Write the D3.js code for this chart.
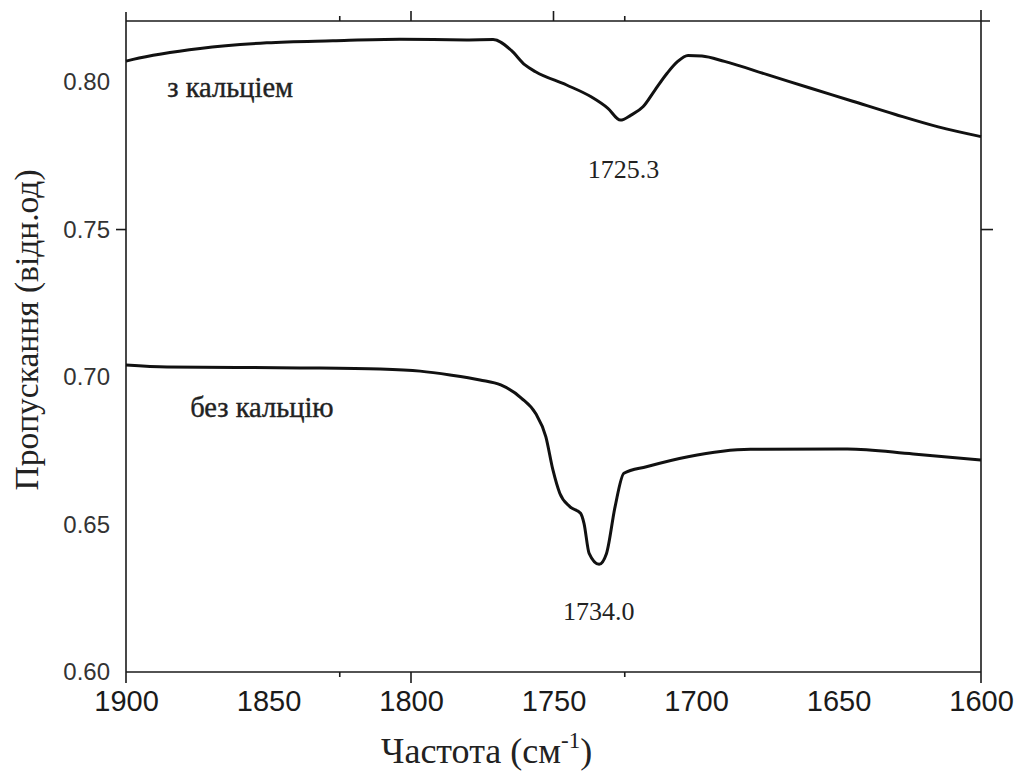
<!DOCTYPE html>
<html>
<head>
<meta charset="utf-8">
<script src="https://cdn.jsdelivr.net/npm/d3@7"></script>
<style>
  html, body { margin: 0; padding: 0; background: #fff; }
  svg { display: block; }
</style>
</head>
<body>
<svg id="chart" width="1020" height="773"></svg>
<script>
// ---- data ----
const withCaFreq = [1900, 1897.5, 1874, 1850.6, 1827.4, 1803.9, 1780.5, 1771.2, 1764.9, 1760, 1756.3, 1745.4, 1736.8, 1730.9, 1726.5, 1722.8, 1718.6, 1714.4, 1710.2, 1706.5, 1702.8, 1697.9, 1690, 1675, 1660, 1645, 1630, 1615, 1600];
const withCaVal  = [0.8071, 0.8077, 0.8114, 0.8133, 0.8140, 0.8145, 0.8143, 0.8144, 0.8108, 0.8058, 0.8035, 0.7990, 0.7950, 0.7911, 0.7871, 0.7888, 0.7916, 0.7973, 0.8029, 0.8069, 0.8090, 0.8088, 0.8070, 0.8025, 0.7980, 0.7935, 0.7890, 0.7848, 0.7815];

const noCaFreq = [1900, 1885.6, 1838.9, 1810.9, 1796.8, 1786.3, 1775.8, 1768.5, 1761.2, 1756.3, 1752.7, 1750.2, 1747.8, 1744.2, 1740.5, 1739.3, 1737.5, 1734.0, 1731.4, 1728.4, 1725.3, 1717.4, 1702.8, 1680.9, 1646.9, 1623.8, 1600];
const noCaVal  = [0.7041, 0.7034, 0.7031, 0.7027, 0.7020, 0.7007, 0.6990, 0.6973, 0.6928, 0.6877, 0.6798, 0.6685, 0.6606, 0.6560, 0.6538, 0.6504, 0.6402, 0.6365, 0.6402, 0.6560, 0.6674, 0.6696, 0.6730, 0.6755, 0.6756, 0.6739, 0.6719];

const xTickLabels = [1900, 1850, 1800, 1750, 1700, 1650, 1600];
const yTickLabels = [0.60, 0.65, 0.70, 0.75, 0.80];
const topMajorTicks = [1800, 1750];
const topMinorTicks = [1825, 1725];
const bottomMajorTicks = [1800];
const bottomMinorTicks = [1825, 1725];
const sideTicks = [0.75];

const seriesLabels = [
  { text: "з кальцiем", f: 1885.5, v: 0.7949 },
  { text: "без кальцію", f: 1877.5, v: 0.6864 }
];
const peakLabels = [
  { text: "1725.3", f: 1738, v: 0.7675 },
  { text: "1734.0", f: 1746.7, v: 0.6176 }
];
const xTitle = "Частота (см";
const xTitleSup = "-1";
const yTitle = "Пропускання (відн.од)";

// ---- layout ----
const svg = d3.select("#chart");
const L = 126, R = 981, T = 21, B = 672;
const x = d3.scaleLinear().domain([1900, 1600]).range([L, R]);
const y = d3.scaleLinear().domain([0.60, 0.8207]).range([B, T]);
const ink = "#1a1a1a";

// frame
const frame = svg.append("g").attr("stroke", ink).attr("stroke-width", 1.6).attr("fill", "none");
frame.append("line").attr("x1", L).attr("x2", L).attr("y1", T - 9).attr("y2", B + 11);
frame.append("line").attr("x1", R).attr("x2", R).attr("y1", T - 11).attr("y2", B + 11);
frame.append("line").attr("x1", L).attr("x2", R + 9).attr("y1", T).attr("y2", T);
frame.append("line").attr("x1", L).attr("x2", R).attr("y1", B).attr("y2", B);

// ticks
function ticksH(vals, yPos, len) {
  frame.selectAll(null).data(vals).join("line")
    .attr("x1", d => x(d)).attr("x2", d => x(d))
    .attr("y1", yPos).attr("y2", yPos + len);
}
ticksH(topMajorTicks, T, -10);
ticksH(topMinorTicks, T, -5);
ticksH(bottomMajorTicks, B, 11);
ticksH(bottomMinorTicks, B, 5);
frame.selectAll(null).data(sideTicks).join("line")
  .attr("x1", L - 10).attr("x2", L).attr("y1", d => y(d)).attr("y2", d => y(d));
frame.selectAll(null).data(sideTicks).join("line")
  .attr("x1", R).attr("x2", R + 12).attr("y1", d => y(d)).attr("y2", d => y(d));

// tick labels via axes
const xAxis = svg.append("g").attr("transform", `translate(0,${B})`)
  .call(d3.axisBottom(x).tickValues(xTickLabels).tickSize(0).tickPadding(18).tickFormat(d3.format("d")));
xAxis.select(".domain").remove();
xAxis.selectAll("text").attr("font-family", "'Liberation Sans', Arial, sans-serif")
  .attr("font-size", 29).attr("fill", ink);

const yAxis = svg.append("g").attr("transform", `translate(${L},0)`)
  .call(d3.axisLeft(y).tickValues(yTickLabels).tickSize(0).tickPadding(16).tickFormat(d3.format(".2f")));
yAxis.select(".domain").remove();
yAxis.selectAll("text").attr("font-family", "'Liberation Sans', Arial, sans-serif")
  .attr("font-size", 24).attr("fill", "#333");

// curves
const line = d3.line().x(d => x(d[0])).y(d => y(d[1])).curve(d3.curveMonotoneX);
const s1 = withCaFreq.map((f, i) => [f, withCaVal[i]]);
const s2 = noCaFreq.map((f, i) => [f, noCaVal[i]]);
[s1, s2].forEach(s => {
  svg.append("path").datum(s).attr("d", line)
    .attr("fill", "none").attr("stroke", "#111").attr("stroke-width", 3)
    .attr("stroke-linejoin", "round");
});

// annotations
const serif = "'Liberation Serif', 'Times New Roman', serif";
svg.selectAll(null).data(seriesLabels).join("text")
  .attr("x", d => x(d.f)).attr("y", d => y(d.v))
  .attr("font-family", serif).attr("font-size", 28.5).attr("fill", "#222")
  .attr("stroke", "#222").attr("stroke-width", 0.4)
  .text(d => d.text);
svg.selectAll(null).data(peakLabels).join("text")
  .attr("x", d => x(d.f)).attr("y", d => y(d.v))
  .attr("font-family", serif).attr("font-size", 26).attr("fill", "#222")
  .text(d => d.text);

// axis titles
const xt = svg.append("text").attr("x", 381).attr("y", 763).attr("text-anchor", "start")
  .attr("font-family", serif).attr("font-size", 36).attr("fill", "#222");
xt.append("tspan").text(xTitle);
xt.append("tspan").attr("dy", -15).attr("font-size", 23).text(xTitleSup);
xt.append("tspan").attr("dy", 15).text(")");

svg.append("text").attr("transform", "translate(38,330) rotate(-90)")
  .attr("text-anchor", "middle").attr("font-family", serif).attr("font-size", 33.5)
  .attr("fill", "#222").text(yTitle);
</script>
</body>
</html>
